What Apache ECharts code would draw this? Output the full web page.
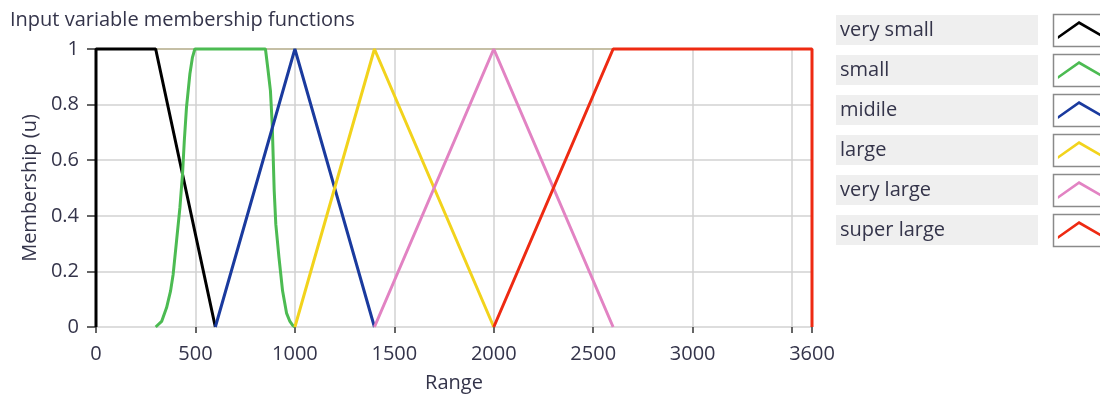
<!DOCTYPE html>
<html>
<head>
<meta charset="utf-8">
<script src="https://cdn.jsdelivr.net/npm/echarts@6/dist/echarts.min.js"></script>
<style>
html,body{margin:0;padding:0;background:#fff;}
#chart{width:1100px;height:398px;}
</style>
</head>
<body>
<div id="chart"></div>
<script>
// ---- data ----
const chartTitle = 'Input variable membership functions';
const xAxisName = 'Range';
const yAxisName = 'Membership (u)';
const seriesNames = ['very small', 'small', 'midile', 'large', 'very large', 'super large'];
const seriesColors = ['#000000', '#4cbb52', '#1a3a9e', '#f2d31c', '#e283c3', '#ee2a12'];
const verySmall = [[0, 0], [0, 1], [300, 1], [600, 0]];
const small = [[300, 0], [330, 0.02], [355, 0.07], [375, 0.13], [388, 0.19], [405, 0.31], [422, 0.43],
  [435, 0.55], [444, 0.67], [455, 0.79], [472, 0.91], [485, 0.97], [497, 1], [852, 1], [864, 0.93],
  [877, 0.85], [886, 0.73], [891, 0.61], [896, 0.49], [904, 0.37], [920, 0.25], [938, 0.13],
  [958, 0.05], [975, 0.02], [990, 0.005], [1000, 0]];
const midile = [[600, 0], [1000, 1], [1400, 0]];
const large = [[1000, 0], [1400, 1], [2000, 0]];
const veryLarge = [[1400, 0], [2000, 1], [2600, 0]];
const superLarge = [[2000, 0], [2600, 1], [3600, 1], [3600, 0]];
const seriesData = [verySmall, small, midile, large, veryLarge, superLarge];
const xTickValues = [0, 500, 1000, 1500, 2000, 2500, 3000, 3500, 3600];
const xLabelValues = [0, 500, 1000, 1500, 2000, 2500, 3000, 3600];
const yTickValues = [0, 0.2, 0.4, 0.6, 0.8, 1];

const FONT = 'Open Sans';
const FS = 20;
const TXT = '#34344a';
const chart = echarts.init(document.getElementById('chart'), null, {renderer: 'canvas'});

const iconPath = 'path://M0,17 L24,0 L48,14 L48,17.5 L24,3.6 L0,20.5 Z';

const boxes = seriesNames.map((n, i) => ({
  type: 'rect', z: 0,
  shape: {x: 1053.5, y: 14.5 + i * 40, width: 60, height: 32},
  style: {fill: '#ffffff', stroke: '#8a8a8a', lineWidth: 1.5}
}));

chart.setOption({
  animation: false,
  textStyle: {fontFamily: FONT},
  title: {
    text: chartTitle, left: 5, top: 5,
    textStyle: {fontFamily: FONT, fontSize: FS, fontWeight: 'normal', color: TXT}
  },
  graphic: boxes,
  legend: {
    orient: 'vertical', left: 836, top: 15, itemGap: 10, padding: 0, z: 5,
    align: 'right', itemWidth: 48, itemHeight: 18, icon: iconPath,
    selectedMode: false,
    data: seriesNames,
    formatter: name => '{a|' + name + '}{s| }',
    textStyle: {
      fontFamily: FONT, fontSize: FS, color: TXT,
      rich: {
        a: {fontFamily: FONT, fontSize: FS, color: TXT, width: 198, height: 30, lineHeight: 30,
            align: 'left', padding: [0, 0, 0, 4], backgroundColor: '#efefef'},
        s: {width: 12, fontSize: FS}
      }
    }
  },
  grid: {left: 96, right: 288, top: 49, bottom: 71, containLabel: false},
  xAxis: [{
    type: 'value', min: 0, max: 3600, interval: 500, offset: 5,
    name: xAxisName, nameLocation: 'middle', nameGap: 41,
    nameTextStyle: {fontFamily: FONT, fontSize: FS, color: TXT},
    axisLine: {show: false},
    axisTick: {show: true, length: 6, lineStyle: {color: '#333', width: 1.5}, customValues: xTickValues},
    axisLabel: {fontFamily: FONT, fontSize: FS, color: TXT, margin: 12, customValues: xLabelValues,
      formatter: v => String(v)},
    splitLine: {show: true, lineStyle: {color: '#d2d2d2', width: 1.5}}
  }, {
    type: 'value', min: 0, max: 3600, position: 'top',
    axisLine: {show: true, onZero: false, lineStyle: {color: '#bdb592', width: 1.5}},
    axisTick: {show: false}, axisLabel: {show: false}, splitLine: {show: false}
  }],
  yAxis: {
    type: 'value', min: 0, max: 1, interval: 0.2, offset: 4,
    name: yAxisName, nameLocation: 'middle', nameGap: 46,
    nameTextStyle: {fontFamily: FONT, fontSize: FS, color: TXT},
    axisLine: {show: false},
    axisTick: {show: true, length: 9, lineStyle: {color: '#333', width: 1.5}},
    axisLabel: {fontFamily: FONT, fontSize: FS, color: TXT, margin: 13,
      formatter: v => String(Math.round(v * 10) / 10)},
    splitLine: {show: true, lineStyle: {color: '#d2d2d2', width: 1.5}}
  },
  series: seriesNames.map((name, i) => ({
    name: name, type: 'line', data: seriesData[i], xAxisIndex: 0,
    showSymbol: false, symbol: 'none', clip: false, z: 3 + i,
    color: seriesColors[i],
    lineStyle: {color: seriesColors[i], width: 3},
    itemStyle: {color: seriesColors[i]}
  }))
});
</script>
</body>
</html>
